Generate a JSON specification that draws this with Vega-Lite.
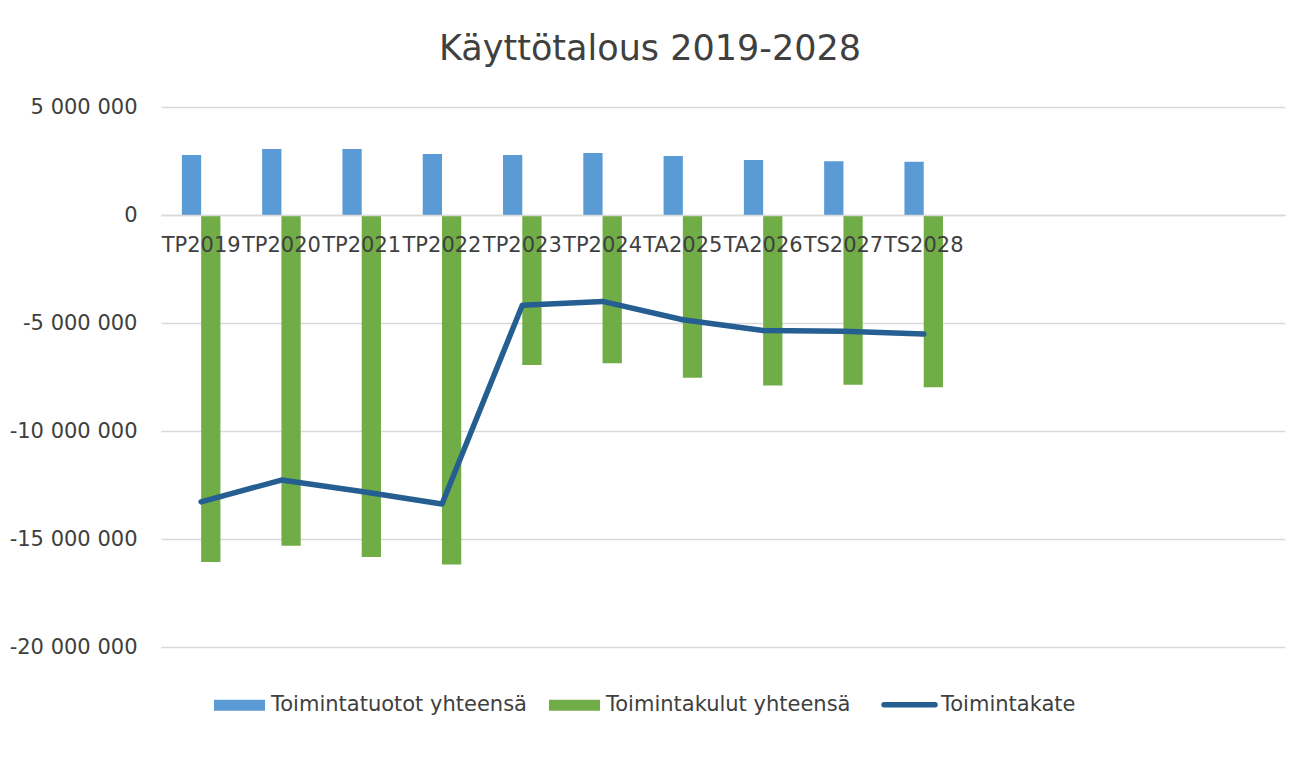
{
  "$schema": "https://vega.github.io/schema/vega-lite/v6.json",
  "autosize": {"type": "none"},
  "padding": {"left": 161, "top": 107, "right": 6, "bottom": 116},
  "width": 1124,
  "height": 540,
  "background": "white",
  "title": {
    "text": "Käyttötalous 2019-2028",
    "font": "DejaVu Sans",
    "fontSize": 35,
    "fontWeight": "normal",
    "color": "#404040",
    "anchor": "middle",
    "dx": -73,
    "offset": 29
  },
  "config": {
    "view": {"stroke": null},
    "font": "DejaVu Sans"
  },
  "data": {
    "values": [
      {"cat": "TP2019", "series": "Toimintatuotot yhteensä", "value": 2780000},
      {"cat": "TP2020", "series": "Toimintatuotot yhteensä", "value": 3060000},
      {"cat": "TP2021", "series": "Toimintatuotot yhteensä", "value": 3060000},
      {"cat": "TP2022", "series": "Toimintatuotot yhteensä", "value": 2820000},
      {"cat": "TP2023", "series": "Toimintatuotot yhteensä", "value": 2780000},
      {"cat": "TP2024", "series": "Toimintatuotot yhteensä", "value": 2870000},
      {"cat": "TA2025", "series": "Toimintatuotot yhteensä", "value": 2730000},
      {"cat": "TA2026", "series": "Toimintatuotot yhteensä", "value": 2550000},
      {"cat": "TS2027", "series": "Toimintatuotot yhteensä", "value": 2490000},
      {"cat": "TS2028", "series": "Toimintatuotot yhteensä", "value": 2470000},
      {"cat": "TP2019", "series": "Toimintakulut yhteensä", "value": -16060000},
      {"cat": "TP2020", "series": "Toimintakulut yhteensä", "value": -15310000},
      {"cat": "TP2021", "series": "Toimintakulut yhteensä", "value": -15830000},
      {"cat": "TP2022", "series": "Toimintakulut yhteensä", "value": -16180000},
      {"cat": "TP2023", "series": "Toimintakulut yhteensä", "value": -6950000},
      {"cat": "TP2024", "series": "Toimintakulut yhteensä", "value": -6860000},
      {"cat": "TA2025", "series": "Toimintakulut yhteensä", "value": -7540000},
      {"cat": "TA2026", "series": "Toimintakulut yhteensä", "value": -7890000},
      {"cat": "TS2027", "series": "Toimintakulut yhteensä", "value": -7860000},
      {"cat": "TS2028", "series": "Toimintakulut yhteensä", "value": -7970000},
      {"cat": "TP2019", "series": "Toimintakate", "value": -13280000},
      {"cat": "TP2020", "series": "Toimintakate", "value": -12270000},
      {"cat": "TP2021", "series": "Toimintakate", "value": -12800000},
      {"cat": "TP2022", "series": "Toimintakate", "value": -13380000},
      {"cat": "TP2023", "series": "Toimintakate", "value": -4180000},
      {"cat": "TP2024", "series": "Toimintakate", "value": -4000000},
      {"cat": "TA2025", "series": "Toimintakate", "value": -4850000},
      {"cat": "TA2026", "series": "Toimintakate", "value": -5350000},
      {"cat": "TS2027", "series": "Toimintakate", "value": -5380000},
      {"cat": "TS2028", "series": "Toimintakate", "value": -5510000}
    ]
  },
  "encoding": {
    "x": {
      "field": "cat",
      "type": "nominal",
      "scale": {
        "domain": ["TP2019", "TP2020", "TP2021", "TP2022", "TP2023", "TP2024", "TA2025", "TA2026", "TS2027", "TS2028", "_e1", "_e2", "_e3", "_e4"],
        "paddingInner": 0.52,
        "paddingOuter": 0.26
      },
      "axis": {
        "title": null,
        "orient": "bottom",
        "offset": -432,
        "zindex": 1,
        "grid": false,
        "ticks": false,
        "domain": true,
        "domainColor": "#d9d9d9",
        "domainWidth": 1.5,
        "labelAngle": 0,
        "labelFont": "DejaVu Sans",
        "labelFontSize": 21,
        "labelColor": "#404040",
        "labelPadding": 19,
        "labelOverlap": false,
        "labelLimit": 300,
        "labelBound": false,
        "labelFlush": false,
        "labelExpr": "indexof(datum.label, '_') === 0 ? '' : datum.label"
      }
    },
    "y": {
      "field": "value",
      "type": "quantitative",
      "scale": {"domain": [-20000000, 5000000], "nice": false, "zero": false},
      "axis": {
        "title": null,
        "values": [-20000000, -15000000, -10000000, -5000000, 0, 5000000],
        "grid": true,
        "gridColor": "#d9d9d9",
        "gridWidth": 1.5,
        "domain": false,
        "ticks": false,
        "labelPadding": 24,
        "labelFont": "DejaVu Sans",
        "labelFontSize": 21,
        "labelColor": "#404040",
        "labelExpr": "replace(replace(replace(replace(format(datum.value, ','), ',', ' '), ',', ' '), ',', ' '), '−', '-')"
      }
    },
    "color": {
      "field": "series",
      "type": "nominal",
      "scale": {
        "domain": ["Toimintatuotot yhteensä", "Toimintakulut yhteensä", "Toimintakate"],
        "range": ["#5b9bd5", "#70ad47", "#255e91"]
      },
      "legend": {
        "orient": "none",
        "legendX": 68,
        "legendY": 587,
        "direction": "horizontal",
        "title": null,
        "symbolSize": 2601,
        "symbolType": "M-1,-0.22H1V0.22H-1Z",
        "symbolOpacity": 1,
        "labelFont": "DejaVu Sans",
        "labelFontSize": 21,
        "labelColor": "#404040",
        "labelOffset": 21,
        "labelLimit": 500,
        "columnPadding": 22,
        "encode": {
          "symbols": {
            "update": {
              "shape": {"signal": "datum.value === 'Toimintakate' ? 'stroke' : 'M-1,-0.22H1V0.22H-1Z'"},
              "strokeWidth": {"signal": "datum.value === 'Toimintakate' ? 5.5 : 0"},
              "stroke": {"scale": "color", "field": "value"},
              "fill": {"scale": "color", "field": "value"},
              "strokeCap": {"value": "round"}
            }
          }
        }
      }
    }
  },
  "layer": [
    {
      "transform": [{"filter": "datum.series !== 'Toimintakate'"}],
      "mark": {"type": "bar", "opacity": 1},
      "encoding": {
        "xOffset": {
          "field": "series",
          "type": "nominal",
          "scale": {"domain": ["Toimintatuotot yhteensä", "Toimintakulut yhteensä"], "paddingInner": 0, "paddingOuter": 0}
        }
      }
    },
    {
      "transform": [{"filter": "datum.series === 'Toimintakate'"}],
      "mark": {"type": "line", "strokeWidth": 5.5, "strokeCap": "round", "strokeJoin": "round"},
      "encoding": {}
    }
  ]
}
